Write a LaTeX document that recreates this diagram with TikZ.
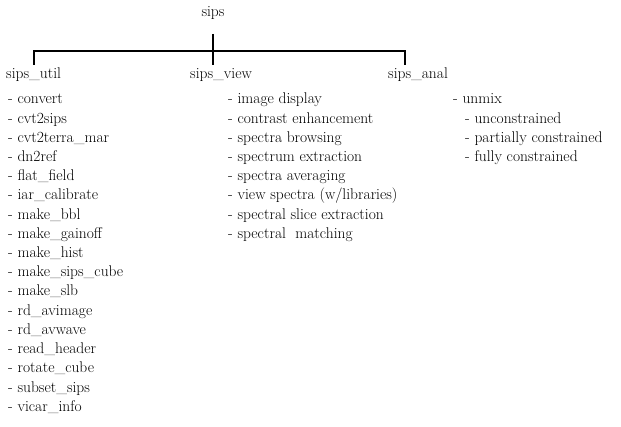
\documentclass[tikz,border=0pt]{standalone}
\usetikzlibrary{calc}

\begin{document}
\begin{tikzpicture}[x=1pt,y=-1pt,
  lbl/.style={anchor=base west,inner sep=0pt,font=\fontsize{15.5}{18}\selectfont},
  itm/.style={anchor=base west,inner sep=0pt,font=\fontsize{15.5}{18}\selectfont}]
  \useasboundingbox (0,0) rectangle (621,427);

  \node[lbl,anchor=base] (sips) at (213,17) {sips};

  \coordinate (T) at (213,34);
  \coordinate (L) at (34,51);
  \coordinate (R) at (405,51);
  \coordinate (Lb) at (34,65);
  \coordinate (Mb) at (213,65);
  \coordinate (Rb) at (405,65);

  \draw[line width=1.2pt] (T) -- (Mb);
  \draw[line width=1.2pt] (Lb) -- (L) -- (R) -- (Rb);

  \node[lbl] (util) at (6,79) {sips\_util};
  \node[lbl] (view) at (190,79) {sips\_view};
  \node[lbl] (anal) at (388,79) {sips\_anal};

  % sips_util
  \node[itm] (u1) at (8,104.0) {- convert};
  \node[itm] (u2) at (8,123.2) {- cvt2sips};
  \node[itm] (u3) at (8,142.4) {- cvt2terra\_mar};
  \node[itm] (u4) at (8,161.6) {- dn2ref};
  \node[itm] (u5) at (8,180.8) {- flat\_field};
  \node[itm] (u6) at (8,200.0) {- iar\_calibrate};
  \node[itm] (u7) at (8,219.2) {- make\_bbl};
  \node[itm] (u8) at (8,238.4) {- make\_gainoff};
  \node[itm] (u9) at (8,257.6) {- make\_hist};
  \node[itm] (u10) at (8,276.8) {- make\_sips\_cube};
  \node[itm] (u11) at (8,296.0) {- make\_slb};
  \node[itm] (u12) at (8,315.2) {- rd\_avimage};
  \node[itm] (u13) at (8,334.4) {- rd\_avwave};
  \node[itm] (u14) at (8,353.6) {- read\_header};
  \node[itm] (u15) at (8,372.8) {- rotate\_cube};
  \node[itm] (u16) at (8,392.0) {- subset\_sips};
  \node[itm] (u17) at (8,411.2) {- vicar\_info};

  % sips_view
  \node[itm] (v1) at (228,104.0) {- image display};
  \node[itm] (v2) at (228,123.2) {- contrast enhancement};
  \node[itm] (v3) at (228,142.4) {- spectra browsing};
  \node[itm] (v4) at (228,161.6) {- spectrum extraction};
  \node[itm] (v5) at (228,180.8) {- spectra averaging};
  \node[itm] (v6) at (228,200.0) {- view spectra (w/libraries)};
  \node[itm] (v7) at (228,219.2) {- spectral slice extraction};
  \node[itm] (v8) at (228,238.4) {- spectral\ \ matching};

  % sips_anal
  \node[itm] (a1) at (453,104.0) {- unmix};
  \node[itm] (a2) at (465,123.2) {- unconstrained};
  \node[itm] (a3) at (465,142.4) {- partially constrained};
  \node[itm] (a4) at (465,161.6) {- fully constrained};

\end{tikzpicture}
\end{document}
